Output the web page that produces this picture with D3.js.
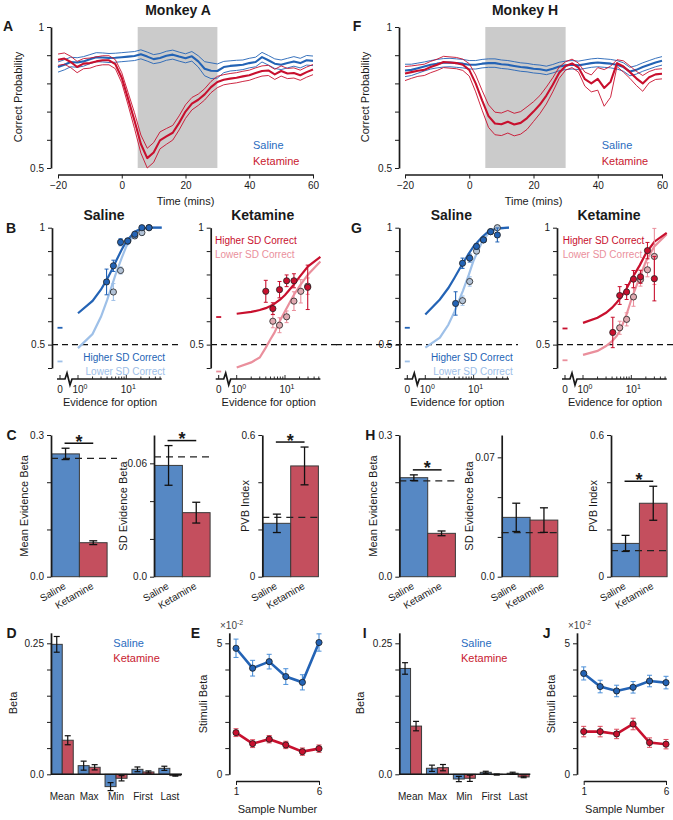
<!DOCTYPE html>
<html><head><meta charset="utf-8">
<script src="https://cdn.jsdelivr.net/npm/d3@7"></script>
<style>
body{margin:0;background:#fff}
svg{font-family:"Liberation Sans",Arial,sans-serif}
</style></head><body>
<script>
// ---------------- DATA ----------------
const tsTime = [-20,-18,-16,-14,-12,-10,-8,-6,-4,-2,0,2,4,6,8,10,12,14,16,18,20,22,24,26,28,30,32,34,36,38,40,42,44,46,48,50,52,54,56,58,60];

// Monkey A
const salMeanA = [0.858,0.866,0.876,0.874,0.878,0.886,0.893,0.892,0.890,0.891,0.893,0.895,0.897,0.903,0.895,0.886,0.890,0.898,0.902,0.895,0.889,0.896,0.878,0.852,0.845,0.844,0.858,0.862,0.864,0.866,0.872,0.876,0.893,0.882,0.870,0.866,0.872,0.878,0.872,0.882,0.880];
const salSeA  = [0.018,0.018,0.017,0.017,0.017,0.016,0.016,0.016,0.016,0.016,0.016,0.016,0.016,0.016,0.016,0.016,0.016,0.016,0.016,0.016,0.016,0.017,0.020,0.025,0.028,0.025,0.020,0.018,0.018,0.017,0.017,0.017,0.017,0.017,0.017,0.017,0.017,0.017,0.017,0.017,0.017];
const ketMeanA = [0.884,0.888,0.876,0.858,0.870,0.872,0.878,0.882,0.882,0.868,0.820,0.745,0.668,0.585,0.535,0.555,0.598,0.612,0.625,0.660,0.700,0.728,0.742,0.761,0.787,0.805,0.813,0.817,0.820,0.825,0.829,0.837,0.844,0.846,0.832,0.844,0.835,0.837,0.829,0.840,0.849];
const ketSeA  = [0.020,0.020,0.020,0.020,0.018,0.018,0.016,0.016,0.016,0.016,0.018,0.022,0.028,0.032,0.035,0.035,0.030,0.028,0.026,0.025,0.024,0.022,0.020,0.020,0.020,0.020,0.018,0.018,0.018,0.018,0.018,0.018,0.018,0.018,0.018,0.018,0.018,0.018,0.018,0.018,0.018];

// Monkey H
const salMeanH = [0.846,0.848,0.854,0.860,0.866,0.870,0.873,0.874,0.872,0.870,0.866,0.866,0.870,0.872,0.872,0.868,0.866,0.862,0.858,0.856,0.852,0.850,0.846,0.852,0.860,0.864,0.866,0.864,0.868,0.872,0.874,0.872,0.870,0.866,0.858,0.842,0.848,0.858,0.866,0.874,0.880];
const salSeH  = [0.022,0.020,0.018,0.016,0.015,0.015,0.015,0.015,0.015,0.015,0.015,0.015,0.015,0.015,0.015,0.015,0.015,0.015,0.015,0.015,0.015,0.015,0.015,0.015,0.015,0.015,0.015,0.015,0.015,0.015,0.015,0.015,0.015,0.015,0.015,0.015,0.015,0.015,0.015,0.015,0.015];
const ketMeanH = [0.835,0.840,0.845,0.848,0.858,0.866,0.876,0.874,0.872,0.866,0.848,0.800,0.740,0.684,0.658,0.655,0.664,0.654,0.660,0.677,0.700,0.725,0.757,0.795,0.838,0.862,0.871,0.856,0.815,0.800,0.816,0.784,0.806,0.872,0.860,0.840,0.818,0.800,0.822,0.832,0.834];
const ketSeH  = [0.025,0.022,0.020,0.020,0.020,0.020,0.020,0.020,0.020,0.020,0.022,0.030,0.035,0.040,0.040,0.040,0.040,0.040,0.040,0.040,0.035,0.032,0.030,0.025,0.020,0.015,0.015,0.016,0.025,0.030,0.040,0.065,0.055,0.012,0.020,0.022,0.025,0.028,0.020,0.018,0.018];

// Psychometric fits (evidence for option -> accuracy)
const curveX = [1,2,3,4,5,6,8,10,15,20,30,54];
const bSalHiCurve = [0.634,0.687,0.736,0.780,0.819,0.853,0.906,0.941,0.983,0.995,1.0,1.0];
const bSalLoCurve = [0.485,0.545,0.620,0.690,0.750,0.800,0.870,0.920,0.975,0.993,1.0,1.0];
const bKetHiCurve = [0.632,0.640,0.648,0.656,0.665,0.674,0.693,0.712,0.755,0.790,0.835,0.875];
const bKetLoCurve = [0.402,0.424,0.445,0.487,0.523,0.550,0.605,0.643,0.710,0.750,0.800,0.855];
const gSalHiCurve = [0.629,0.693,0.742,0.785,0.820,0.848,0.890,0.920,0.960,0.983,0.997,1.0];
const gSalLoCurve = [0.487,0.530,0.585,0.640,0.690,0.730,0.800,0.860,0.940,0.975,0.995,1.0];
const gKetHiCurve = [0.593,0.615,0.636,0.658,0.680,0.700,0.740,0.778,0.840,0.890,0.940,0.978];
const gKetLoCurve = [0.456,0.473,0.494,0.515,0.537,0.565,0.630,0.693,0.790,0.856,0.920,0.972];

// zero-evidence accuracy markers [higher, lower]
const bSalZero = [0.572,0.428], bKetZero = [0.618,0.385];
const gSalZero = [0.572,0.428], gKetZero = [0.569,0.433];

// binned data points
const bSalHiX = [3.9,5.4,7.6,10.7,15,21,29.5], bSalHiY = [0.768,0.837,0.938,0.943,0.972,1.0,1.0], bSalHiE = [0.055,0.024,0.015,0.012,0.012,0,0];
const bSalLoX = [5.4,7.6,10.7,15,21,29.5], bSalLoY = [0.725,0.817,0.943,0.965,0.979,1.0], bSalLoE = [0.036,0.015,0.010,0.012,0.012,0];
const bKetHiX = [4.0,5.6,7.7,10.8,15.3,29.5], bKetHiY = [0.728,0.654,0.735,0.773,0.773,0.745], bKetHiE = [0.047,0.025,0.035,0.025,0.030,0.095];
const bKetLoX = [5.6,7.7,10.8,15.3,21.2,29.5], bKetLoY = [0.600,0.583,0.619,0.686,0.728,0.750], bKetLoE = [0.028,0.032,0.025,0.040,0.050,0.035];
const gSalHiX = [4.24,5.9,8.3,11.5,16,22.5,31], gSalHiY = [0.676,0.848,0.870,0.920,0.948,0.983,0.969], gSalHiE = [0.050,0.022,0.017,0.012,0.010,0.008,0.030];
const gSalLoX = [5.9,8.3,11.5,16,22.5,31], gSalLoY = [0.688,0.770,0.900,0.948,0.983,1.0], gSalLoE = [0.020,0.020,0.012,0.010,0.008,0];
const gKetHiX = [4.13,5.75,8.0,11.1,15.5,21.6,30], gKetHiY = [0.552,0.710,0.725,0.780,0.790,0.902,0.782], gKetHiE = [0.065,0.038,0.032,0.037,0.028,0.035,0.095];
const gKetLoX = [5.75,8.0,11.1,15.5,21.6,30], gKetLoY = [0.572,0.608,0.704,0.778,0.820,0.877], gKetLoE = [0.028,0.028,0.040,0.028,0.030,0.120];

// Bar summaries [Saline, Ketamine]
const conds = ["Saline","Ketamine"];
const cMeanVals = [0.260,0.072], cMeanErr = [0.012,0.004], cMeanRef = 0.2506;
const cSdVals   = [0.0589,0.0339], cSdErr = [0.0105,0.0055], cSdRef = 0.0634;
const cPvbVals  = [0.226,0.469], cPvbErr = [0.039,0.080], cPvbRef = 0.251;
const hMeanVals = [0.2096,0.0918], hMeanErr = [0.006,0.005], hMeanRef = 0.203;
const hSdVals   = [0.0348,0.0332], hSdErr = [0.0083,0.0072], hSdRef = 0.0258;
const hPvbVals  = [0.141,0.311], hPvbErr = [0.034,0.072], hPvbRef = 0.110;

// Regression betas
const groups = ["Mean","Max","Min","First","Last"];
const dSal = [0.248,0.0165,-0.0235,0.0095,0.0114], dSalErr = [0.015,0.0086,0.0076,0.0045,0.004];
const dKet = [0.065,0.0134,-0.0076,0.0045,-0.0025], dKetErr = [0.0086,0.005,0.005,0.002,0.001];
const iSal = [0.202,0.0115,-0.009,0.0038,0.002], iSalErr = [0.011,0.006,0.005,0.002,0.002];
const iKet = [0.092,0.0127,-0.0076,-0.0005,-0.005], iKetErr = [0.009,0.006,0.006,0.001,0.0015];

// Stimuli beta per sample (x10^-2)
const samples = [1,2,3,4,5,6];
const eSal = [4.81,4.05,4.30,3.73,3.51,5.03], eSalErr = [0.35,0.30,0.28,0.30,0.29,0.33];
const eKet = [1.59,1.17,1.34,1.12,0.865,0.98], eKetErr = [0.15,0.15,0.14,0.14,0.14,0.14];
const jSal = [3.85,3.35,3.18,3.32,3.56,3.50], jSalErr = [0.25,0.24,0.22,0.22,0.22,0.24];
const jKet = [1.63,1.63,1.54,1.92,1.21,1.15], jKetErr = [0.20,0.20,0.18,0.22,0.18,0.18];

// ---------------- STYLE ----------------
const FONT = "'Liberation Sans', Arial, sans-serif";
const C_SAL = "#2363b5", C_KET = "#c8102e", C_SAL_L = "#9ec0e8", C_KET_L = "#ea8f9c";
const BAR_SAL = "#5688c4", BAR_KET = "#c44f5e";
const PT_SAL_L = "#b2c2d6", PT_KET_L = "#dfa9b0";
const TXT_SAL = "#2a6cc0", TXT_KET = "#c8202f";
const INK = "#1a1a1a";

const svg = d3.select("body").append("svg").attr("width",673).attr("height",820).attr("font-family",FONT);

function txt(x,y,s,o={}){
  const t = svg.append("text").attr("x",x).attr("y",y).text(s)
    .attr("font-size",o.size||11).attr("fill",o.fill||INK).attr("text-anchor",o.anchor||"start");
  if(o.bold) t.attr("font-weight","bold");
  if(o.rotate!=null) t.attr("transform",`rotate(${o.rotate},${x},${y})`);
  if(o.baseline) t.attr("dominant-baseline",o.baseline);
  return t;
}
function only(pairs){ return d => { for(const [v,s] of pairs){ if(Math.abs(d-v)<1e-9) return s; } return ""; }; }
function styleAxis(g){
  g.attr("font-family",FONT).attr("font-size",10);
  g.select(".domain").attr("stroke",INK).attr("stroke-width",1.7);
  g.selectAll(".tick line").attr("stroke",INK).attr("stroke-width",1);
  g.selectAll(".tick text").attr("fill",INK);
  return g;
}
function letter(x,y,s){ txt(x,y,s,{size:14,bold:true}); }

// ---------------- TIME SERIES (A, F) ----------------
function drawTS(c){
  const x = d3.scaleLinear().domain([-20,60]).range([c.x0,c.x1]);
  const y = d3.scaleLinear().domain([0.5,1]).range([168,27]);
  svg.append("rect").attr("x",x(5)).attr("y",y(1)).attr("width",x(30)-x(5)).attr("height",y(0.5)-y(1)).attr("fill","#cbcbcb");
  [[c.sal,c.salSe,C_SAL],[c.ket,c.ketSe,C_KET]].forEach(([m,se,col])=>{
    const pts = tsTime.map((t,i)=>({t:t,m:m[i],s:se[i]}));
    [[d=>d.m+d.s,0.9],[d=>d.m-d.s,0.9],[d=>d.m,2.1]].forEach(([f,w])=>{
      svg.append("path").datum(pts).attr("fill","none").attr("stroke",col).attr("stroke-width",w)
        .attr("stroke-linejoin","round").attr("d",d3.line().x(d=>x(d.t)).y(d=>y(f(d))));
    });
  });
  styleAxis(svg.append("g").attr("transform",`translate(${c.axisX},0)`)
    .call(d3.axisLeft(y).tickValues([0.5,0.6,0.7,0.8,0.9,1]).tickSize(4).tickSizeOuter(0).tickFormat(only([[1,"1"],[0.5,"0.5"]]))));
  styleAxis(svg.append("g").attr("transform","translate(0,174.5)")
    .call(d3.axisBottom(x).tickValues([-20,0,20,40,60]).tickSize(4).tickSizeOuter(0)));
  txt((c.x0+c.x1)/2,205,"Time (mins)",{anchor:"middle"});
  txt(c.ylabelX,97,"Correct Probability",{anchor:"middle",rotate:-90,baseline:"central"});
  txt(c.legendX,149,"Saline",{fill:TXT_SAL});
  txt(c.legendX,164.5,"Ketamine",{fill:TXT_KET});
  txt(c.titleX,15,c.title,{size:14,bold:true,anchor:"middle"});
}

// ---------------- PSYCHOMETRIC (B, G) ----------------
function drawPsy(c){
  const y = d3.scaleLinear().domain([0.4,1]).range([368,227.7]);
  const x = d3.scaleLog().domain([1,54]).range([c.axisX+26,c.axisX+109.7]);
  const zx = c.axisX+8;
  svg.append("line").attr("x1",c.dashFrom).attr("x2",c.dashTo).attr("y1",y(0.5)).attr("y2",y(0.5))
    .attr("stroke","#111").attr("stroke-width",1.2).attr("stroke-dasharray","6,4");
  styleAxis(svg.append("g").attr("transform",`translate(${c.axisX},0)`)
    .call(d3.axisLeft(y).tickValues([0.4,0.5,0.6,0.7,0.8,0.9,1]).tickSize(4).tickSizeOuter(0).tickFormat(only([[1,"1"],[0.5,"0.5"]]))));
  const ay = 379, xEnd = c.axisX+109.7;
  svg.append("path").attr("fill","none").attr("stroke",INK).attr("stroke-width",1.7).attr("stroke-linejoin","miter")
    .attr("d",`M${zx-3},${ay}H${zx+5}L${zx+7},${ay-6}L${zx+10},${ay+6}L${zx+12},${ay}H${xEnd}`);
  svg.append("line").attr("x1",zx).attr("x2",zx).attr("y1",ay).attr("y2",ay-4).attr("stroke",INK);
  [1,2,3,4,5,6,7,8,9,10,20,30,40,50].forEach(v=>{
    const major = (v===1||v===10);
    svg.append("line").attr("x1",x(v)).attr("x2",x(v)).attr("y1",ay).attr("y2",ay-(major?4:2.5)).attr("stroke",INK).attr("stroke-width",0.9);
  });
  txt(zx,393,"0",{size:10,anchor:"middle"});
  [[1,"0"],[10,"1"]].forEach(([v,e])=>{
    const t = txt(x(v)+2,393,"10",{size:10,anchor:"middle"});
    t.append("tspan").attr("dy",-4).attr("font-size",7).text(e);
  });
  txt(c.axisX+58,405.5,"Evidence for option",{anchor:"middle"});
  const line = d3.line().x(d=>x(d[0])).y(d=>y(d[1]));
  svg.append("path").datum(curveX.map((v,i)=>[v,c.loCurve[i]])).attr("d",line).attr("fill","none").attr("stroke",c.loCol).attr("stroke-width",2.2);
  svg.append("path").datum(curveX.map((v,i)=>[v,c.hiCurve[i]])).attr("d",line).attr("fill","none").attr("stroke",c.hiCol).attr("stroke-width",2.2);
  [[c.zero[0],c.hiCol],[c.zero[1],c.loCol]].forEach(([v,col])=>{
    svg.append("line").attr("x1",zx-2.5).attr("x2",zx+2.5).attr("y1",y(v)).attr("y2",y(v)).attr("stroke",col).attr("stroke-width",1.8);
  });
  function pts(X,Y,E,col,fill){
    X.forEach((xv,i)=>{
      const cx = x(xv);
      if(E[i]>0){
        svg.append("line").attr("x1",cx).attr("x2",cx).attr("y1",y(Y[i]-E[i])).attr("y2",y(Y[i]+E[i])).attr("stroke",col).attr("stroke-width",1.1);
        [Y[i]-E[i],Y[i]+E[i]].forEach(v=>svg.append("line").attr("x1",cx-2).attr("x2",cx+2).attr("y1",y(v)).attr("y2",y(v)).attr("stroke",col).attr("stroke-width",1));
      }
      svg.append("circle").attr("cx",cx).attr("cy",y(Y[i])).attr("r",3.1).attr("fill",fill).attr("stroke","#222").attr("stroke-width",0.8);
    });
  }
  pts(c.loX,c.loY,c.loE,c.loCol,c.loFill);
  pts(c.hiX,c.hiY,c.hiE,c.hiCol,c.hiCol);
  txt(c.legX,c.legY,"Higher SD Correct",{size:10,fill:c.hiCol,anchor:c.legAnchor});
  txt(c.legX,c.legY+14,"Lower SD Correct",{size:10,fill:c.loCol,anchor:c.legAnchor});
  txt(c.axisX+52,220,c.title,{size:14,bold:true,anchor:"middle"});
}

// ---------------- BAR PAIRS (C, H) ----------------
function drawPair(c){
  const y = d3.scaleLinear().domain([0,c.dom]).range([576.7,435]);
  const xb = d3.scaleBand().domain(conds).range([c.axisX+0.7,c.axisX+0.7+55.4]).padding(0);
  const fills = [BAR_SAL,BAR_KET];
  conds.forEach((k,i)=>{
    svg.append("rect").attr("x",xb(k)).attr("y",y(c.vals[i])).attr("width",xb.bandwidth()).attr("height",y(0)-y(c.vals[i]))
      .attr("fill",fills[i]).attr("stroke","#3a3a3a").attr("stroke-width",1);
  });
  svg.append("line").attr("x1",c.axisX).attr("x2",c.refEnd).attr("y1",y(c.ref)).attr("y2",y(c.ref))
    .attr("stroke","#222").attr("stroke-width",1.3).attr("stroke-dasharray","7,5");
  conds.forEach((k,i)=>{
    const cx = xb(k)+xb.bandwidth()/2, lo=c.vals[i]-c.errs[i], hi=c.vals[i]+c.errs[i];
    svg.append("line").attr("x1",cx).attr("x2",cx).attr("y1",y(lo)).attr("y2",y(hi)).attr("stroke","#111").attr("stroke-width",1.3);
    [lo,hi].forEach(v=>svg.append("line").attr("x1",cx-4).attr("x2",cx+4).attr("y1",y(v)).attr("y2",y(v)).attr("stroke","#111").attr("stroke-width",1.3));
    txt(cx+1,588,k,{size:10,anchor:"end",rotate:-30});
  });
  if(c.sig){
    const top = Math.min(...conds.map((k,i)=>y(c.vals[i]+c.errs[i])));
    const ly = top-5, c0 = xb("Saline")+xb.bandwidth()/2-1, c1 = xb("Ketamine")+xb.bandwidth()/2;
    svg.append("line").attr("x1",c0).attr("x2",c1).attr("y1",ly).attr("y2",ly).attr("stroke","#111").attr("stroke-width",1.5);
    txt((c0+c1)/2,ly+4.5,"*",{size:18,bold:true,anchor:"middle"});
  }
  styleAxis(svg.append("g").attr("transform",`translate(${c.axisX},0)`)
    .call(d3.axisLeft(y).tickValues(c.ticks).tickSize(4).tickSizeOuter(0).tickFormat(only(c.labels))));
  txt(c.ylabelX,506,c.ylabel,{anchor:"middle",rotate:-90,baseline:"central"});
}

// ---------------- GROUP BARS (D, I) ----------------
function drawGroup(c){
  const y = d3.scaleLinear().domain([0,0.27]).range([774.3,774.3-0.27*524]);
  const xb = d3.scaleBand().domain(groups).range([c.axisX-2.2,c.axisX-2.2+134.5]).padding(0);
  groups.forEach((g,i)=>{
    const cx = xb(g)+xb.bandwidth()/2;
    [[c.sal[i],BAR_SAL,cx-11],[c.ket[i],BAR_KET,cx]].forEach(([v,f,x0])=>{
      svg.append("rect").attr("x",x0).attr("y",Math.min(y(v),y(0))).attr("width",11).attr("height",Math.abs(y(v)-y(0)))
        .attr("fill",f).attr("stroke","#3a3a3a").attr("stroke-width",1);
    });
  });
  svg.append("line").attr("x1",c.axisX).attr("x2",c.axisX+131).attr("y1",y(0)).attr("y2",y(0)).attr("stroke",INK).attr("stroke-width",1.6);
  groups.forEach((g,i)=>{
    const cx = xb(g)+xb.bandwidth()/2;
    [[c.sal[i],c.salE[i],cx-5.5],[c.ket[i],c.ketE[i],cx+5.5]].forEach(([v,e,bx])=>{
      svg.append("line").attr("x1",bx).attr("x2",bx).attr("y1",y(v-e)).attr("y2",y(v+e)).attr("stroke","#111").attr("stroke-width",1.2);
      [v-e,v+e].forEach(w=>svg.append("line").attr("x1",bx-3).attr("x2",bx+3).attr("y1",y(w)).attr("y2",y(w)).attr("stroke","#111").attr("stroke-width",1.2));
    });
    txt(cx,800,g,{size:10,anchor:"middle"});
  });
  styleAxis(svg.append("g").attr("transform",`translate(${c.axisX},0)`)
    .call(d3.axisLeft(y).tickValues([0,0.05,0.1,0.15,0.2,0.25]).tickSize(4).tickSizeOuter(0).tickFormat(only([[0,"0.0"],[0.25,"0.25"]]))));
  txt(c.ylabelX,703,"Beta",{anchor:"middle",rotate:-90,baseline:"central"});
  txt(c.legendX,646.5,"Saline",{fill:TXT_SAL});
  txt(c.legendX,662,"Ketamine",{fill:TXT_KET});
}

// ---------------- SAMPLE LINES (E, J) ----------------
function drawSamples(c){
  const y = d3.scaleLinear().domain([0,5.4]).range([774.3,774.3-5.4*26.2]);
  const x = d3.scaleLinear().domain([1,6]).range([c.x1,c.x6]);
  styleAxis(svg.append("g").attr("transform",`translate(${c.axisX},0)`)
    .call(d3.axisLeft(y).tickValues([0,1,2,3,4,5]).tickSize(4).tickSizeOuter(0).tickFormat(only([[0,"0"],[5,"5"]]))));
  styleAxis(svg.append("g").attr("transform","translate(0,781)")
    .call(d3.axisBottom(x).tickValues([1,6]).tickSize(4).tickSizeOuter(0).tickFormat(d3.format("d"))));
  [[c.sal,c.salE,C_SAL,"#4b8fd8"],[c.ket,c.ketE,C_KET,"#dc4a5c"]].forEach(([v,e,col,ecol])=>{
    samples.forEach((s,i)=>{
      const cx = x(s);
      svg.append("line").attr("x1",cx).attr("x2",cx).attr("y1",y(v[i]-e[i])).attr("y2",y(v[i]+e[i])).attr("stroke",ecol).attr("stroke-width",1.1);
      [v[i]-e[i],v[i]+e[i]].forEach(w=>svg.append("line").attr("x1",cx-2.5).attr("x2",cx+2.5).attr("y1",y(w)).attr("y2",y(w)).attr("stroke",ecol).attr("stroke-width",1));
    });
    svg.append("path").datum(samples.map((s,i)=>[s,v[i]])).attr("fill","none").attr("stroke",col).attr("stroke-width",2.6)
      .attr("d",d3.line().x(d=>x(d[0])).y(d=>y(d[1])));
    samples.forEach((s,i)=>svg.append("circle").attr("cx",x(s)).attr("cy",y(v[i])).attr("r",3.1).attr("fill",col).attr("stroke","#1a1a1a").attr("stroke-width",0.8));
  });
  const t = txt(c.expX,629,"×10",{size:10,fill:"#444"});
  t.append("tspan").attr("dy",-4).attr("font-size",7).text("-2");
  txt(c.ylabelX,704,"Stimuli Beta",{anchor:"middle",rotate:-90,baseline:"central"});
  txt((c.x1+c.x6)/2,813,"Sample Number",{anchor:"middle"});
}

// ---------------- LAYOUT ----------------
drawTS({x0:58,x1:313,axisX:51,sal:salMeanA,salSe:salSeA,ket:ketMeanA,ketSe:ketSeA,ylabelX:18,legendX:253,titleX:178,title:"Monkey A"});
drawTS({x0:405,x1:662,axisX:399,sal:salMeanH,salSe:salSeH,ket:ketMeanH,ketSe:ketSeH,ylabelX:365,legendX:601.7,titleX:525,title:"Monkey H"});
letter(3,31,"A"); letter(352.7,31,"F");

drawPsy({axisX:52,title:"Saline",hiCurve:bSalHiCurve,loCurve:bSalLoCurve,hiCol:C_SAL,loCol:C_SAL_L,loFill:PT_SAL_L,zero:bSalZero,
  hiX:bSalHiX,hiY:bSalHiY,hiE:bSalHiE,loX:bSalLoX,loY:bSalLoY,loE:bSalLoE,dashFrom:52,dashTo:178,legX:165,legY:361,legAnchor:"end"});
drawPsy({axisX:210.7,title:"Ketamine",hiCurve:bKetHiCurve,loCurve:bKetLoCurve,hiCol:C_KET,loCol:C_KET_L,loFill:PT_KET_L,zero:bKetZero,
  hiX:bKetHiX,hiY:bKetHiY,hiE:bKetHiE,loX:bKetLoX,loY:bKetLoY,loE:bKetLoE,dashFrom:211,dashTo:338,legX:215,legY:243.5,legAnchor:"start"});
drawPsy({axisX:399.3,title:"Saline",hiCurve:gSalHiCurve,loCurve:gSalLoCurve,hiCol:C_SAL,loCol:C_SAL_L,loFill:PT_SAL_L,zero:gSalZero,
  hiX:gSalHiX,hiY:gSalHiY,hiE:gSalHiE,loX:gSalLoX,loY:gSalLoY,loE:gSalLoE,dashFrom:336,dashTo:518,legX:512.7,legY:361,legAnchor:"end"});
drawPsy({axisX:557,title:"Ketamine",hiCurve:gKetHiCurve,loCurve:gKetLoCurve,hiCol:C_KET,loCol:C_KET_L,loFill:PT_KET_L,zero:gKetZero,
  hiX:gKetHiX,hiY:gKetHiY,hiE:gKetHiE,loX:gKetLoX,loY:gKetLoY,loE:gKetLoE,dashFrom:557,dashTo:673,legX:562.7,legY:243.5,legAnchor:"start"});
letter(6,233,"B"); letter(351,233,"G");

drawPair({axisX:51,dom:0.3,ticks:[0,0.1,0.2,0.3],labels:[[0,"0.0"],[0.3,"0.3"]],vals:cMeanVals,errs:cMeanErr,ref:cMeanRef,refEnd:117,sig:true,ylabel:"Mean Evidence Beta",ylabelX:24});
drawPair({axisX:154,dom:0.075,ticks:[0,0.02,0.04,0.06],labels:[[0,"0.0"],[0.06,"0.06"]],vals:cSdVals,errs:cSdErr,ref:cSdRef,refEnd:210,sig:true,ylabel:"SD Evidence Beta",ylabelX:123.3});
drawPair({axisX:262.3,dom:0.6,ticks:[0,0.2,0.4,0.6],labels:[[0,"0"],[0.6,"0.6"]],vals:cPvbVals,errs:cPvbErr,ref:cPvbRef,refEnd:319,sig:true,ylabel:"PVB Index",ylabelX:245});
drawPair({axisX:399.3,dom:0.3,ticks:[0,0.1,0.2,0.3],labels:[[0,"0.0"],[0.3,"0.3"]],vals:hMeanVals,errs:hMeanErr,ref:hMeanRef,refEnd:456,sig:true,ylabel:"Mean Evidence Beta",ylabelX:372.5});
drawPair({axisX:501.7,dom:0.0831,ticks:[0,0.07/3,0.14/3,0.07],labels:[[0,"0.0"],[0.07,"0.07"]],vals:hSdVals,errs:hSdErr,ref:hSdRef,refEnd:558,sig:false,ylabel:"SD Evidence Beta",ylabelX:469.3});
drawPair({axisX:611,dom:0.6,ticks:[0,0.2,0.4,0.6],labels:[[0,"0"],[0.6,"0.6"]],vals:hPvbVals,errs:hPvbErr,ref:hPvbRef,refEnd:667,sig:true,ylabel:"PVB Index",ylabelX:592.7});
letter(6.5,440,"C"); letter(365.3,440,"H");

drawGroup({axisX:51,sal:dSal,salE:dSalErr,ket:dKet,ketE:dKetErr,legendX:113.3,ylabelX:12.5});
drawGroup({axisX:399.3,sal:iSal,salE:iSalErr,ket:iKet,ketE:iKetErr,legendX:461,ylabelX:360});
drawSamples({axisX:229.3,x1:236,x6:319,sal:eSal,salE:eSalErr,ket:eKet,ketE:eKetErr,expX:220,ylabelX:203});
drawSamples({axisX:577,x1:583.7,x6:666,sal:jSal,salE:jSalErr,ket:jKet,ketE:jKetErr,expX:568,ylabelX:551});
letter(6.5,638,"D"); letter(190.7,638,"E"); letter(362.7,638,"I"); letter(542.7,638,"J");
</script>
</body></html>
